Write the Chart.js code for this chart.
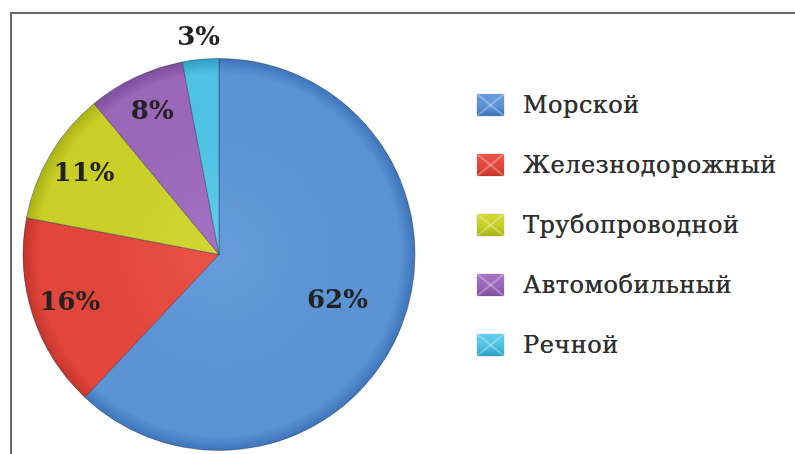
<!DOCTYPE html>
<html>
<head>
<meta charset="utf-8">
<script src="https://cdn.jsdelivr.net/npm/chart.js@4"></script>
<style>
  html, body { margin: 0; padding: 0; background: #fff; }
  body { width: 795px; height: 454px; overflow: hidden; position: relative; font-family: "DejaVu Serif", serif; }
  #frame { position: absolute; left: 10px; top: 12px; width: 800px; height: 460px;
           border-top: 2px solid #6b6b6b; border-left: 2px solid #6b6b6b; }
  #pieBox { position: absolute; left: 0; top: 0; width: 440px; height: 454px; }
  #legend { position: absolute; left: 477px; top: 75px; margin: 0; padding: 0; list-style: none; }
  #legend li { height: 60px; display: flex; align-items: center; font-size: 24px; letter-spacing: 0.5px;
               color: #2e2e2e; text-shadow: 0 0 0.6px #2e2e2e; }
  #legend .box { width: 27px; height: 22px; margin-right: 19px; flex: none; box-shadow: 0 0 1px rgba(0,0,0,0.4); }
</style>
</head>
<body>
<div id="frame"></div>
<div id="pieBox"><canvas id="pie"></canvas></div>
<ul id="legend"></ul>
<script>
const categories = ["Морской", "Железнодорожный", "Трубопроводной", "Автомобильный", "Речной"];
const shares = [62, 16, 11, 8, 3];

// light / base / rim tone for each slice
const lightTones = ["#669cdb", "#ea5446", "#d2d735", "#a572c3", "#62cdeb"];
const baseTones  = ["#5b93d4", "#e2463b", "#c9cf26", "#9b67b9", "#4ec2e2"];
const rimTones   = ["#3d74ba", "#c3342b", "#a9b015", "#7d4c9b", "#2d9ec2"];

// how far out (fraction of the radius) each percent label sits
const labelRadius = [0.65, 0.8, 0.8, 0.8, 1.11];

function sliceFill(ctx) {
  const i = ctx.dataIndex;
  const area = ctx.chart.chartArea;
  if (!area) return baseTones[i];
  const cx = (area.left + area.right) / 2;
  const cy = (area.top + area.bottom) / 2;
  const r = Math.min(area.width, area.height) / 2;
  const g = ctx.chart.ctx.createRadialGradient(cx, cy, 0, cx, cy, r);
  g.addColorStop(0, lightTones[i]);
  g.addColorStop(0.6, baseTones[i]);
  g.addColorStop(0.92, baseTones[i]);
  g.addColorStop(1, rimTones[i]);
  return g;
}

const percentLabels = {
  id: "percentLabels",
  afterDatasetsDraw(chart) {
    const c = chart.ctx;
    const arcs = chart.getDatasetMeta(0).data;
    c.save();
    c.font = "bold 26px 'DejaVu Serif', serif";
    c.fillStyle = "#222";
    c.textAlign = "center";
    c.textBaseline = "middle";
    arcs.forEach((arc, i) => {
      const mid = (arc.startAngle + arc.endAngle) / 2;
      const r = arc.outerRadius * labelRadius[i];
      c.fillText(shares[i] + "%", arc.x + Math.cos(mid) * r, arc.y + Math.sin(mid) * r);
    });
    c.restore();
  }
};

const htmlLegend = {
  id: "htmlLegend",
  afterUpdate(chart) {
    const ul = document.getElementById("legend");
    ul.innerHTML = "";
    chart.data.labels.forEach((name, i) => {
      const li = document.createElement("li");
      const box = document.createElement("span");
      box.className = "box";
      box.style.background =
        "linear-gradient(to top right, transparent 45%, rgba(255,255,255,0.35) 50%, transparent 55%)," +
        "linear-gradient(to bottom right, transparent 45%, rgba(255,255,255,0.35) 50%, transparent 55%)," +
        `linear-gradient(to bottom, ${lightTones[i]}, ${baseTones[i]} 55%, ${rimTones[i]})`;
      li.appendChild(box);
      li.appendChild(document.createTextNode(name));
      ul.appendChild(li);
    });
  }
};

new Chart(document.getElementById("pie"), {
  type: "pie",
  data: {
    labels: categories,
    datasets: [{
      data: shares,
      backgroundColor: sliceFill,
      borderColor: "rgba(40,55,90,0.45)",
      borderWidth: 1
    }]
  },
  options: {
    responsive: true,
    maintainAspectRatio: false,
    animation: false,
    layout: { padding: { top: 58, bottom: 3, left: 22, right: 24 } },
    plugins: {
      legend: { display: false },
      tooltip: { enabled: false }
    }
  },
  plugins: [percentLabels, htmlLegend]
});
</script>
</body>
</html>
